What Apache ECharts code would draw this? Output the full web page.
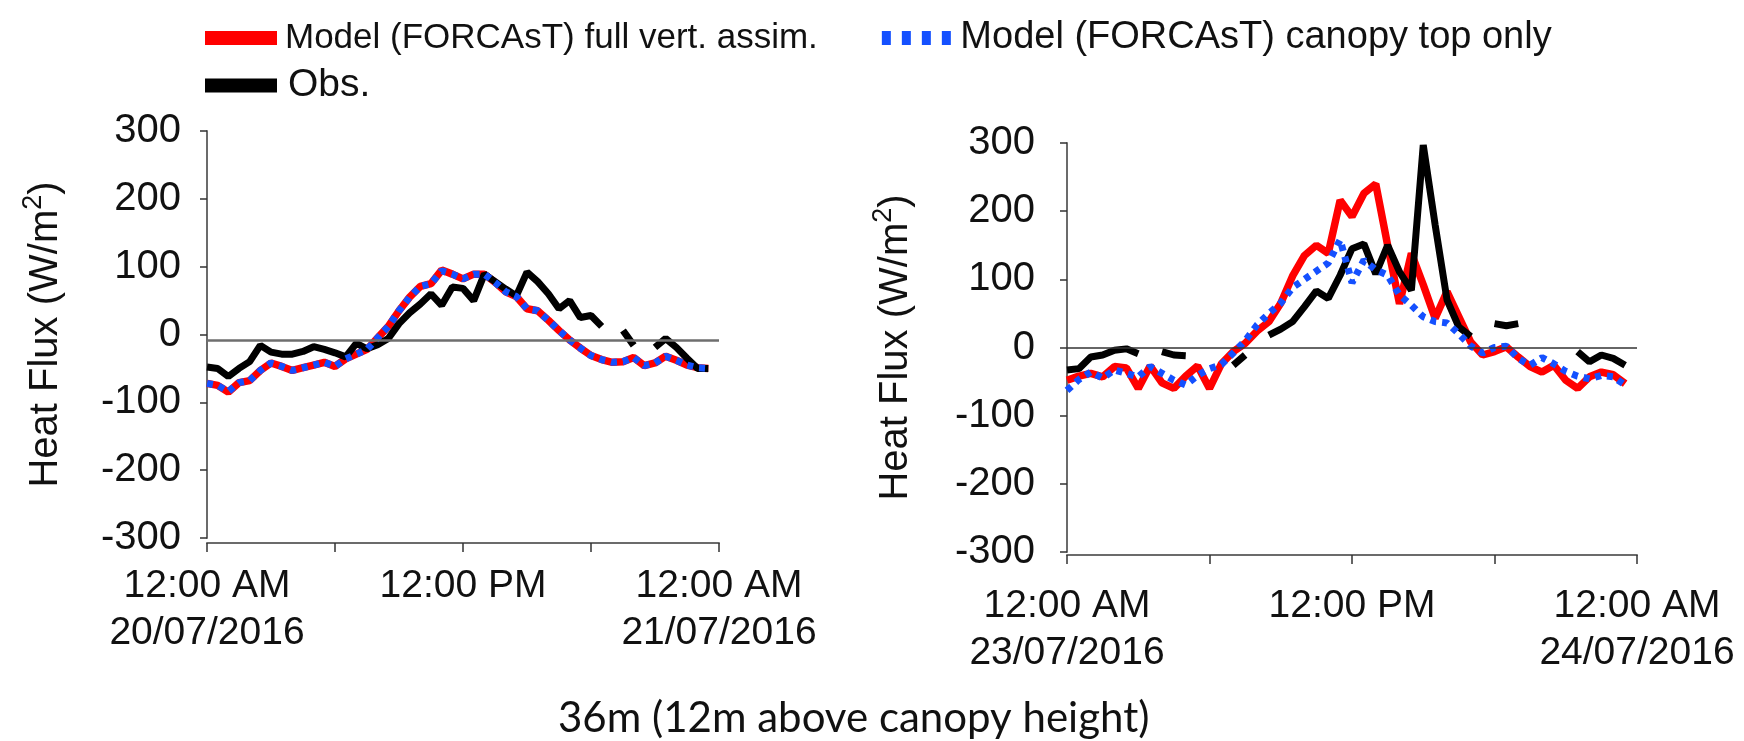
<!DOCTYPE html>
<html>
<head>
<meta charset="utf-8">
<script src="https://cdn.jsdelivr.net/npm/echarts@6/dist/echarts.min.js"></script>
<style>
  html, body { margin: 0; padding: 0; background: #fff; }
  #chart { width: 1744px; height: 741px; }
</style>
</head>
<body>
<div id="chart"></div>
<script>
// half-hourly time stamps (hours after midnight)
var hours = [];
for (var i = 0; i < 48; i++) hours.push(i * 0.5);

var tickLabels1 = { 0: '12:00 AM\n20/07/2016', 12: '12:00 PM', 24: '12:00 AM\n21/07/2016' };
var tickLabels2 = { 0: '12:00 AM\n23/07/2016', 12: '12:00 PM', 24: '12:00 AM\n24/07/2016' };

var seriesNames = ['Model (FORCAsT) full vert. assim.', 'Model (FORCAsT) canopy top only', 'Obs.'];

// 20/07/2016
var full1 = [-72, -75, -85, -71, -68, -53, -42, -47, -53, -49, -45, -41, -47, -36, -29, -22,
  -5, 12, 35, 55, 71, 75, 95, 89, 82, 89, 89, 77, 63, 56, 38, 35,
  21, 6, -8, -20, -31, -37, -41, -40, -34, -46, -42, -32, -38, -45, -49, -50];
var top1 = [-72, -75, -84, -71, -68, -53, -42, -47, -53, -49, -45, -41, -47, -36, -29, -22,
  -5, 12, 35, 55, 71, 75, 94, 89, 82, 89, 89, 77, 63, 56, 38, 35,
  21, 6, -8, -20, -31, -37, -41, -40, -34, -46, -42, -32, -38, -45, -49, -50];
var obs1 = [-48, -50, -62, -50, -40, -16, -26, -29, -29, -25, -18, -22, -27, -33, -13, -21,
  -15, -6, 16, 32, 45, 60, 43, 70, 68, 50, 89, 78, 67, 57, 92, 78,
  60, 38, 50, 25, 28, 12, null, 6, -16, null, -19, -6, -19, -35, -50, -50];

// 23/07/2016
var full2 = [-48, -42, -38, -43, -28, -30, -60, -27, -52, -60, -42, -27, -60, -24, -6, 6,
  24, 38, 65, 105, 135, 150, 138, 216, 192, 226, 240, 150, 64, 138, 92, 43,
  82, 45, 8, -11, -6, 1, -14, -28, -36, -26, -48, -60, -43, -36, -40, -53];
var top2 = [-63, -47, -36, -45, -33, -38, -43, -28, -38, -48, -55, -41, -31, -25, -8, 10,
  33, 50, 65, 88, 100, 112, 124, 158, 95, 128, 114, 106, 77, 62, 45, 38,
  36, 20, 2, -8, 0, 2, -16, -26, -15, -24, -35, -42, -46, -41, -43, -55];
var obs2 = [-33, -31, -14, -11, -4, -2, -9, null, -6, -11, -12, null, null, null, -26, -11,
  null, 18, 27, 38, 60, 83, 72, 106, 145, 152, 108, 150, 111, 84, 297, 180,
  70, 30, 16, null, 35, 32, 35, null, null, null, null, -6, -21, -11, -16, -26];

var zeroLine1 = -9;
var zeroLine2 = 0;

function pairs(vals) {
  return hours.map(function (h, i) { return [h, vals[i]]; });
}

var font = 'Liberation Sans, Arial, sans-serif';

function xAxisFor(idx, labels, offset, margin) {
  return {
    type: 'value', gridIndex: idx, min: 0, max: 24, interval: 6,
    offset: offset,
    axisLine: { show: true, onZero: false, lineStyle: { color: '#6b6b6b', width: 2 } },
    axisTick: { show: true, length: 9, lineStyle: { color: '#333', width: 1.5 } },
    splitLine: { show: false },
    axisLabel: {
      showMinLabel: true, showMaxLabel: true, margin: margin,
      color: '#111', fontFamily: font, fontSize: 39, lineHeight: 47, verticalAlign: 'top',
      formatter: function (v) { return labels[v] || ''; }
    }
  };
}

function yAxisFor(idx, offset, margin, gap) {
  return {
    type: 'value', gridIndex: idx, min: -300, max: 300, interval: 100,
    offset: offset,
    name: 'Heat Flux (W/m{s|2})',
    nameLocation: 'middle', nameGap: gap,
    nameTextStyle: {
      color: '#111', fontFamily: font, fontSize: 40,
      rich: { s: { fontSize: 27, fontFamily: font, color: '#111', verticalAlign: 'bottom', padding: [0, 0, 25, 0] } }
    },
    axisLine: { show: true, lineStyle: { color: '#6b6b6b', width: 2 } },
    axisTick: { show: true, length: 7, lineStyle: { color: '#333', width: 1.5 } },
    splitLine: { show: false },
    axisLabel: { margin: margin, color: '#111', fontFamily: font, fontSize: 40 }
  };
}

function seriesFor(idx, full, top, obs, zero, zeroColor, zeroWidth) {
  return [
    {
      name: seriesNames[0], type: 'line', xAxisIndex: idx, yAxisIndex: idx,
      data: pairs(full), showSymbol: false, z: 2,
      lineStyle: { color: '#ff0000', width: 7.5 }, itemStyle: { color: '#ff0000' },
      markLine: {
        silent: true, symbol: ['none', 'none'], label: { show: false },
        lineStyle: { color: zeroColor, width: zeroWidth, type: 'solid' },
        data: [{ yAxis: zero }]
      }
    },
    {
      name: seriesNames[2], type: 'line', xAxisIndex: idx, yAxisIndex: idx,
      data: pairs(obs), showSymbol: false, z: 3,
      lineStyle: { color: '#000', width: 7 }, itemStyle: { color: '#000' }
    },
    {
      name: seriesNames[1], type: 'line', xAxisIndex: idx, yAxisIndex: idx,
      data: pairs(top), showSymbol: false, z: 4,
      lineStyle: { color: '#1450ff', width: 7, type: [6, 6], cap: 'butt' }, itemStyle: { color: '#1450ff' }
    }
  ];
}

var chart = echarts.init(document.getElementById('chart'));
var option = {
  animation: false,
  backgroundColor: '#fff',
  title: {
    text: '36m (12m above canopy height)',
    left: 553, top: 692,
    textStyle: { fontFamily: 'Lato, sans-serif', fontWeight: 'normal', fontSize: 42, color: '#111' }
  },
  legend: [
    {
      left: 200, top: 14, itemWidth: 72, itemHeight: 14, itemGap: 64,
      textStyle: { fontFamily: font, fontSize: 35, color: '#111', padding: [0, 0, 0, 3] },
      data: [
        { name: seriesNames[0], icon: 'rect', itemStyle: { color: '#ff0000' } },
        { name: seriesNames[1], icon: 'path://M0,0h9v14h-9z M20,0h9v14h-9z M40,0h9v14h-9z M60,0h9v14h-9z',
          itemStyle: { color: '#1450ff' }, textStyle: { fontSize: 38 } }
      ]
    },
    {
      left: 200, top: 61, itemWidth: 72, itemHeight: 14,
      textStyle: { fontFamily: font, fontSize: 39, color: '#111', padding: [0, 0, 0, 6] },
      data: [{ name: seriesNames[2], icon: 'rect', itemStyle: { color: '#000' } }]
    }
  ],
  grid: [
    { left: 207, top: 131, width: 512, height: 407 },
    { left: 1067, top: 143, width: 570, height: 409 }
  ],
  xAxis: [xAxisFor(0, tickLabels1, 5, 20), xAxisFor(1, tickLabels2, 3, 28)],
  yAxis: [yAxisFor(0, 5, 21, 130), yAxisFor(1, 5, 27, 140)],
  series: seriesFor(0, full1, top1, obs1, zeroLine1, '#6e6e6e', 2.5)
    .concat(seriesFor(1, full2, top2, obs2, zeroLine2, '#333', 1.5))
};
chart.setOption(option);
</script>
</body>
</html>
